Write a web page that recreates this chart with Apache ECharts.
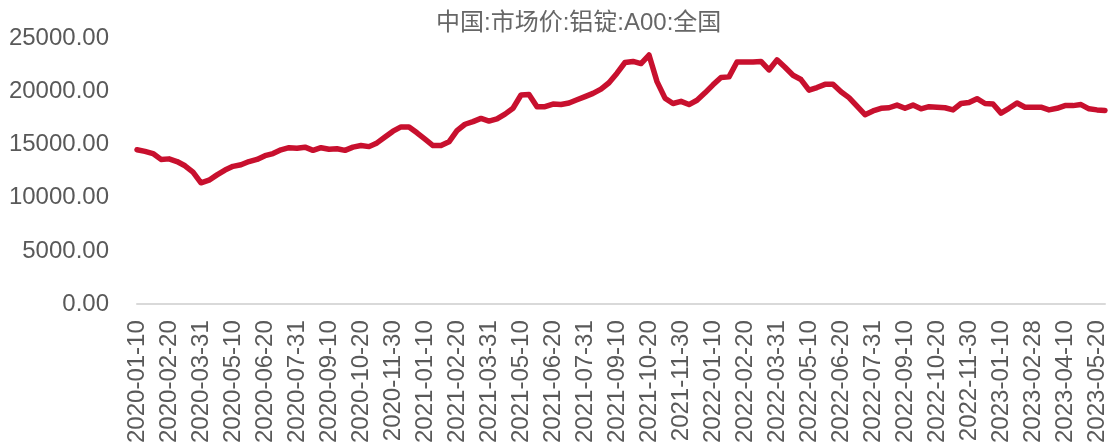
<!DOCTYPE html>
<html>
<head>
<meta charset="utf-8">
<script src="https://cdn.jsdelivr.net/npm/echarts@6/dist/echarts.min.js"></script>
<style>
  html, body { margin: 0; padding: 0; background: #fff; }
  #main { width: 1118px; height: 446px; }
</style>
</head>
<body>
<div id="main"></div>
<script>
// 標題
const titleText = "中国:市场价:铝锭:A00:全国";

// 日期(旬)
const dates2020 = ["2020-01-10","2020-01-20","2020-01-31","2020-02-10","2020-02-20","2020-02-29",
  "2020-03-10","2020-03-20","2020-03-31","2020-04-10","2020-04-20","2020-04-30",
  "2020-05-10","2020-05-20","2020-05-31","2020-06-10","2020-06-20","2020-06-30",
  "2020-07-10","2020-07-20","2020-07-31","2020-08-10","2020-08-20","2020-08-31",
  "2020-09-10","2020-09-20","2020-09-30","2020-10-10","2020-10-20","2020-10-31",
  "2020-11-10","2020-11-20","2020-11-30","2020-12-10","2020-12-20","2020-12-31"];
const dates2021 = ["2021-01-10","2021-01-20","2021-01-31","2021-02-10","2021-02-20","2021-02-28",
  "2021-03-10","2021-03-20","2021-03-31","2021-04-10","2021-04-20","2021-04-30",
  "2021-05-10","2021-05-20","2021-05-31","2021-06-10","2021-06-20","2021-06-30",
  "2021-07-10","2021-07-20","2021-07-31","2021-08-10","2021-08-20","2021-08-31",
  "2021-09-10","2021-09-20","2021-09-30","2021-10-10","2021-10-20","2021-10-31",
  "2021-11-10","2021-11-20","2021-11-30","2021-12-10","2021-12-20","2021-12-31"];
const dates2022 = ["2022-01-10","2022-01-20","2022-01-31","2022-02-10","2022-02-20","2022-02-28",
  "2022-03-10","2022-03-20","2022-03-31","2022-04-10","2022-04-20","2022-04-30",
  "2022-05-10","2022-05-20","2022-05-31","2022-06-10","2022-06-20","2022-06-30",
  "2022-07-10","2022-07-20","2022-07-31","2022-08-10","2022-08-20","2022-08-31",
  "2022-09-10","2022-09-20","2022-09-30","2022-10-10","2022-10-20","2022-10-31",
  "2022-11-10","2022-11-20","2022-11-30","2022-12-10","2022-12-20","2022-12-31"];
const dates2023 = ["2023-01-10","2023-01-20","2023-02-10","2023-02-20","2023-02-28",
  "2023-03-10","2023-03-20","2023-03-31","2023-04-10","2023-04-20","2023-04-30",
  "2023-05-10","2023-05-20","2023-05-31"];

// 價格(元/噸)
const price2020 = [14500,14350,14150,13600,13650,13400,13000,12400,11400,11650,12150,12600,
  12950,13100,13400,13600,13950,14150,14500,14700,14650,14750,14450,14700,
  14550,14600,14450,14750,14900,14800,15150,15700,16250,16650,16650,16100];
const price2021 = [15500,14900,14900,15250,16300,16900,17150,17450,17200,17400,17850,18400,
  19650,19700,18550,18550,18800,18750,18900,19200,19500,19800,20200,20800,
  21700,22700,22800,22600,23400,20900,19350,18850,19050,18750,19150,19850];
const price2022 = [20600,21300,21350,22750,22750,22750,22800,22000,22950,22250,21500,21100,
  20100,20350,20650,20650,19950,19400,18600,17800,18150,18400,18450,18700,
  18400,18700,18350,18550,18500,18450,18250,18850,18950,19300,18850,18800];
const price2023 = [17950,18400,18900,18500,18500,18500,18250,18400,18650,18650,18750,18350,
  18250,18200];

const dates = dates2020.concat(dates2021, dates2022, dates2023);
const prices = price2020.concat(price2021, price2022, price2023);

const latinFont = "Liberation Sans, Arial, Noto Sans CJK SC, sans-serif";

let chart = echarts.init(document.getElementById("main"));

let option = {
    animation: false,
    title: {
        text: titleText,
        left: 431,
        top: 6,
        textStyle: {
            color: "#666666",
            fontSize: 24,
            fontWeight: "normal",
            fontFamily: latinFont
        }
    },
    grid: {
        left: 137,
        right: 13,
        top: 38,
        bottom: 140,
        containLabel: false
    },
    xAxis: {
        type: "category",
        data: dates,
        boundaryGap: false,
        axisLine: { lineStyle: { color: "#d9d9d9", width: 2 } },
        axisTick: { show: false },
        axisLabel: {
            interval: 3,
            rotate: 90,
            margin: 16,
            color: "#595959",
            fontSize: 24,
            fontFamily: latinFont
        },
        splitLine: { show: false }
    },
    yAxis: {
        type: "value",
        min: 0,
        max: 25000,
        interval: 5000,
        axisLine: { show: false },
        axisTick: { show: false },
        splitLine: { show: false },
        axisLabel: {
            margin: 28,
            color: "#595959",
            fontSize: 24,
            fontFamily: latinFont,
            formatter: (v) => v.toFixed(2)
        }
    },
    series: [
        {
            name: titleText,
            type: "line",
            data: prices,
            symbol: "none",
            lineStyle: { color: "#c8102e", width: 5.5, cap: "round", join: "round" },
            itemStyle: { color: "#c8102e" }
        }
    ]
};

chart.setOption(option);
</script>
</body>
</html>
